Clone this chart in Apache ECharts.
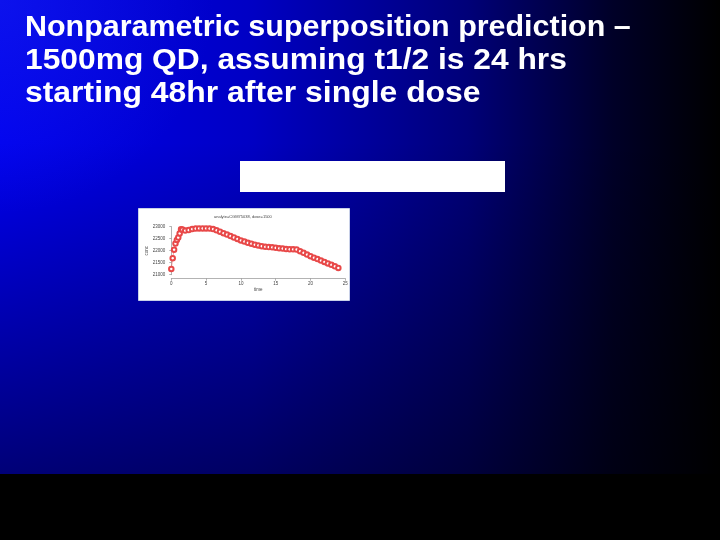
<!DOCTYPE html>
<html>
<head>
<meta charset="utf-8">
<script src="https://cdn.jsdelivr.net/npm/echarts@6/dist/echarts.min.js"></script>
<style>html,body{margin:0;padding:0;background:#000;}#c{width:720px;height:540px;}</style>
</head>
<body>
<div id="c"></div>
<script>
const slideTitleLines = ["Nonparametric superposition prediction –", "1500mg QD, assuming t1/2 is 24 hrs", "starting 48hr after single dose"];
const plotTitle = "analyte=CGM75038, dose=1500";
const xName = "time";
const yName = "conc";
const times = [0, 0.2, 0.4, 0.6, 0.8, 1.0, 1.2, 1.4, 1.6, 2.0, 2.5, 3.0, 3.5, 4.0, 4.5, 5.0, 5.5, 6.0, 6.5, 7.0, 7.5, 8.0, 8.5, 9.0, 9.5, 10.0, 10.5, 11.0, 11.5, 12.0, 12.5, 13.0, 13.5, 14.0, 14.5, 15.0, 15.5, 16.0, 16.5, 17.0, 17.5, 18.0, 18.5, 19.0, 19.5, 20.0, 20.5, 21.0, 21.5, 22.0, 22.5, 23.0, 23.5, 24.0];
const conc = [21240, 21690, 22040, 22300, 22450, 22550, 22720, 22890, 22880, 22840, 22860, 22900, 22920, 22930, 22930, 22930, 22920, 22900, 22850, 22790, 22730, 22670, 22610, 22550, 22490, 22430, 22380, 22330, 22290, 22250, 22220, 22190, 22160, 22150, 22140, 22120, 22100, 22090, 22070, 22060, 22060, 22050, 21980, 21910, 21840, 21770, 21710, 21650, 21590, 21530, 21470, 21410, 21350, 21280];
const xTicks = [0, 5, 10, 15, 20, 25];
const yTicks = [21000, 21500, 22000, 22500, 23000];

const chart = echarts.init(document.getElementById('c'), null, {renderer: 'canvas'});
const pts = times.map((t, i) => [t, conc[i]]);
const lineScale = [1.05, 1.095, 1.10];
const titleGraphics = slideTitleLines.map((s, i) => ({
  type: 'text', z: 10, x: 25, y: 13 + i * 33, scaleX: lineScale[i],
  style: {text: s, fill: '#ffffff', font: 'bold 29px "Liberation Sans", Arial, sans-serif'}
}));
const option = {
  animation: false,
  backgroundColor: {
    type: 'linear', x: 0, y: 0, x2: 1, y2: 0,
    colorStops: [
      {offset: 0, color: '#0000f0'},
      {offset: 0.35, color: '#0000c4'},
      {offset: 0.65, color: '#000078'},
      {offset: 0.85, color: '#000028'},
      {offset: 1, color: '#000000'}
    ]
  },
  graphic: [
    {type: 'rect', z: -10, silent: true, shape: {x: 0, y: 0, width: 720, height: 474},
     style: {fill: {type: 'linear', x: 0, y: 0, x2: 0, y2: 1, colorStops: [
       {offset: 0, color: 'rgba(0,0,0,0)'}, {offset: 0.3, color: 'rgba(0,0,0,0)'}, {offset: 1, color: 'rgba(0,0,0,0.5)'}]}}},
    {type: 'rect', z: -10, silent: true, shape: {x: 0, y: 0, width: 720, height: 474},
     style: {fill: {type: 'radial', x: 0, y: 0, r: 0.45, colorStops: [
       {offset: 0, color: 'rgba(40,60,230,0.3)'}, {offset: 1, color: 'rgba(40,60,230,0)'}]}}},
    {type: 'rect', z: -10, silent: true, shape: {x: 0, y: 474, width: 720, height: 66}, style: {fill: '#000000'}},
    ...titleGraphics,
    {type: 'rect', z: 1, shape: {x: 240, y: 161, width: 265, height: 31}, style: {fill: '#ffffff'}},
    {type: 'rect', z: 1, shape: {x: 138.5, y: 208.5, width: 211, height: 92}, style: {fill: '#ffffff', stroke: '#c8d0e8', lineWidth: 1}},
    {type: 'text', z: 10, x: 214, y: 215,
     style: {text: plotTitle, fill: '#444', font: '4px "Liberation Sans", Arial, sans-serif'}}
  ],
  grid: {left: 171.3, right: 374.7, top: 226.7, bottom: 265.3, containLabel: false, z: 5},
  xAxis: {
    type: 'value', min: 0, max: 25, interval: 5, offset: 4,
    name: xName, nameLocation: 'middle', nameGap: 8,
    nameTextStyle: {fontSize: 4.5, color: '#444', fontFamily: 'Liberation Sans'},
    axisLine: {show: true, lineStyle: {color: '#666', width: 0.5}},
    axisTick: {show: true, length: 2, lineStyle: {color: '#666', width: 0.5}},
    axisLabel: {fontSize: 4.5, color: '#444', margin: 3, fontFamily: 'Liberation Sans', formatter: v => String(v)},
    splitLine: {show: false}, z: 5
  },
  yAxis: {
    type: 'value', min: 21000, max: 23000, interval: 500, offset: 3,
    name: yName, nameLocation: 'middle', nameGap: 16, nameRotate: 90,
    nameTextStyle: {fontSize: 4.5, color: '#444', fontFamily: 'Liberation Sans'},
    axisLine: {show: true, lineStyle: {color: '#666', width: 0.5}},
    axisTick: {show: true, length: 2, lineStyle: {color: '#666', width: 0.5}},
    axisLabel: {fontSize: 4.5, color: '#444', margin: 3, fontFamily: 'Liberation Sans', formatter: v => String(v)},
    splitLine: {show: false}, z: 5
  },
  series: [{
    type: 'line', data: pts, z: 6,
    symbol: 'emptyCircle', symbolSize: 4.5, showAllSymbol: true,
    lineStyle: {color: '#e84848', width: 0.5},
    itemStyle: {color: '#e84848', borderColor: '#e84848', borderWidth: 0.7}
  }]
};
chart.setOption(option);
</script>
</body>
</html>
